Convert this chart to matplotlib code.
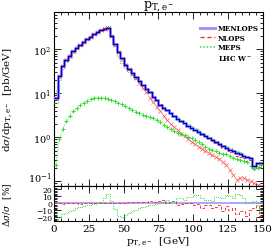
import numpy as np
import matplotlib
matplotlib.use("Agg")
import matplotlib.pyplot as plt
import matplotlib.transforms as mtransforms
from matplotlib.ticker import MultipleLocator, LogLocator, NullFormatter, FixedLocator
from matplotlib.lines import Line2D

# ---------------- data (60 bins of 2.5 GeV, 0-150 GeV) ----------------
bin_width = 2.5
x_max = 150.0

menlops = [8.0, 25, 42, 58, 72, 90, 108, 128, 146, 168,
           192, 218, 245, 272, 295, 300, 200, 130, 86, 62,
           45, 36, 29, 23, 19, 15.5, 12.6, 10.5, 8.4, 6.9,
           5.5, 4.7, 4.1, 3.5, 3.05, 2.65, 2.35, 2.1, 1.85, 1.65,
           1.48, 1.33, 1.2, 1.08, 0.97, 0.87, 0.78, 0.7, 0.63, 0.57,
           0.52, 0.48, 0.44, 0.41, 0.38, 0.36, 0.34, 0.22, 0.26, 0.26]

# relative difference to MENLOPS [%] (ratio panel)
nlops_ratio = [0, 0, -0.5, 0, 0.5, 0, 0, -0.5, 0, 0,
               0, 0.5, 0, 0, 0.5, 0, 0.5, 0, 0, 0.5,
               1, 1.5, 2, 2, 2.5, 2, 2.5, 3, 2.5, 2.5,
               4, 5, 0, 2.5, 3, -2, -1, 0, 0, 1,
               -2, -1, -6.5, -3, -2, -6.5, -5, -2, -11, -4,
               -9, -7, -15.5, -11, -11, -18, -9, -6.5, -4, -18]

meps_ratio = [-26, -20, -15.5, -13, -11, -9, -7, -5.5, -4.3, -3,
              -2, -1, 0, 2.5, 7, 14, 4, -8, -18, -20,
              -17, -14, -11.5, -9, -7, -5.5, -4.3, -3, -2, -1,
              0, 2.5, 5, 2.5, 3, 7, 7, 5, 9, 9,
              12.5, 12, 7, 5, 5, 4, 9, 9, 7, 11.5,
              11, 8, 14, 12, 7, 0, 2.5, 3, -2, -10]

# separate curves drawn with markers at bin centres
nlops_low = [8.0, 25, 42, 58, 72, 90, 108, 128, 146, 168,
             192, 218, 245, 272, 295, 300, 200, 128, 85, 61,
             44, 35, 28, 22, 17.5, 13.5, 10.5, 8.0, 6.2, 4.9,
             3.9, 3.1, 2.5, 2.05, 1.7, 1.45, 1.22, 1.05, 0.92, 0.8,
             0.7, 0.62, 0.55, 0.5, 0.44, 0.4, 0.36, 0.33, 0.28, 0.24,
             0.18, 0.14, 0.11, 0.12, 0.12, 0.11, 0.1, 0.09, 0.085, 0.08]

meps_low = [0.24, 0.9, 1.55, 2.3, 3.1, 3.9, 4.6, 5.4, 6.1, 6.8,
            7.5, 7.9, 8.0, 8.0, 7.8, 7.5, 7.1, 6.6, 6.1, 5.6,
            5.1, 4.6, 4.2, 3.85, 3.6, 3.3, 3.1, 2.9, 2.7, 2.5,
            2.2, 1.95, 1.75, 1.55, 1.38, 1.25, 1.18, 1.12, 1.02, 0.95,
            0.87, 0.8, 0.7, 0.62, 0.56, 0.52, 0.48, 0.45, 0.43, 0.41,
            0.38, 0.35, 0.32, 0.31, 0.29, 0.27, 0.22, 0.19, 0.2, 0.24]

legend_labels = ["MENLOPS", "NLOPS", "MEPS", "LHC W$^-$"]
x_ticks = [0, 25, 50, 75, 100, 125, 150]
y_ticks = [0.1, 1, 10, 100]
y_ticklabels = [r"$10^{-1}$", r"$10^{0}$", r"$10^{1}$", r"$10^{2}$"]
r_ticks = [-20, -10, 0, 10, 20]

# ---------------- derived ----------------
menlops = np.array(menlops)
nbins = len(menlops)
edges = np.arange(nbins + 1) * bin_width
centers = edges[:-1] + bin_width / 2
nlops = menlops * (1 + np.array(nlops_ratio) / 100.0)
meps = menlops * (1 + np.array(meps_ratio) / 100.0)

def stepvals(v):
    v = np.asarray(v, dtype=float)
    return np.append(v, v[-1])

C_LAV = "#9a9aff"
C_BLUE = "#0000cc"
C_RED = "#ff3333"
C_GREEN = "#33dd33"

plt.rcParams["font.family"] = "DejaVu Serif"
plt.rcParams["mathtext.fontset"] = "dejavuserif"

fig = plt.figure(figsize=(2.73, 2.51), dpi=100)
ax = fig.add_axes([0.198, 0.256, 0.765, 0.692])
axr = fig.add_axes([0.198, 0.1155, 0.765, 0.1405], sharex=ax)

# main panel
ax.step(edges, stepvals(menlops), where="post", color=C_LAV, lw=2.2, zorder=3)
ax.step(edges, stepvals(menlops), where="post", color=C_BLUE, lw=0.9, zorder=5)
ax.step(edges, stepvals(nlops), where="post", color=C_RED, lw=0.7, ls=(0, (3, 2)), zorder=4)
ax.step(edges, stepvals(meps), where="post", color=C_GREEN, lw=0.7, ls=(0, (1, 1.2)), zorder=4)
ax.plot(centers, nlops_low, color=C_RED, lw=0.5, ls=(0, (1, 1)), marker="x", ms=2.2,
        mew=0.5, alpha=0.8, zorder=4)
ax.plot(centers, meps_low, color=C_GREEN, lw=0.5, ls=(0, (1, 1)), marker="+", ms=3.2,
        mew=0.7, zorder=4)

ax.set_yscale("log")
ax.set_xlim(0, x_max)
ax.set_ylim(0.08, 700)
ax.set_title(r"p$_{\mathregular{T,e^-}}$", fontsize=9, pad=2)
ax.set_ylabel(r"d$\sigma$/dp$_{\mathregular{T,e^-}}$  [pb/GeV]", fontsize=7.5, labelpad=2)
ax.yaxis.set_label_coords(-0.19, 0.5)
ax.set_yticks(y_ticks, labels=y_ticklabels)
ax.yaxis.set_minor_locator(LogLocator(base=10, subs=np.arange(2, 10), numticks=20))
ax.yaxis.set_minor_formatter(NullFormatter())
ax.tick_params(axis="x", labelbottom=False)

# legend
handles = [Line2D([], [], color=C_LAV, lw=2.2),
           Line2D([], [], color=C_RED, lw=1.0, ls=(0, (3, 2))),
           Line2D([], [], color=C_GREEN, lw=1.1, ls=(0, (1, 1.2))),
           Line2D([], [], color="none")]
leg = ax.legend(handles, legend_labels, loc="upper right", bbox_to_anchor=(1.0, 0.955),
                frameon=False, handlelength=2.2, handletextpad=0.4,
                labelspacing=0.22, borderaxespad=0.2,
                prop={"family": "DejaVu Serif", "weight": "bold", "size": 5})

# ratio panel
axr.axhline(0, color=C_LAV, lw=1.2, zorder=2)
axr.step(edges, stepvals(nlops_ratio), where="post", color=C_RED, lw=0.7,
         ls=(0, (3, 2)), zorder=3)
axr.step(edges, stepvals(meps_ratio), where="post", color=C_GREEN, lw=0.7,
         ls=(0, (1, 1.2)), zorder=3)
axr.set_ylim(-25, 25)
axr.set_xlim(0, x_max)
axr.yaxis.set_major_locator(FixedLocator(r_ticks))
axr.yaxis.set_minor_locator(MultipleLocator(2))
axr.xaxis.set_major_locator(FixedLocator(x_ticks))
axr.xaxis.set_minor_locator(MultipleLocator(5))
axr.set_xlabel(r"p$_{\mathregular{T,e^-}}$  [GeV]", fontsize=7.5, labelpad=1)
axr.set_ylabel(r"$\Delta\sigma/\sigma$  [%]", fontsize=6.5, labelpad=1)
axr.yaxis.set_label_coords(-0.19, 0.5)

for a in (ax, axr):
    a.tick_params(which="both", direction="in", top=True, right=True, labelsize=7.5,
                  width=0.6, pad=2)
    a.tick_params(which="major", length=5)
    a.tick_params(which="minor", length=2.5)
    for s in a.spines.values():
        s.set_linewidth(0.8)
axr.tick_params(axis="y", labelsize=5.5, pad=1.5)
ax.tick_params(axis="y", labelsize=7)

# nudge the lowest main-panel label up so it clears the ratio labels
shift = mtransforms.ScaledTranslation(0, 3.5 / 72, fig.dpi_scale_trans)
lowest = ax.yaxis.get_major_ticks()[0].label1
lowest.set_transform(lowest.get_transform() + shift)

fig.savefig("out.png", dpi=100)
